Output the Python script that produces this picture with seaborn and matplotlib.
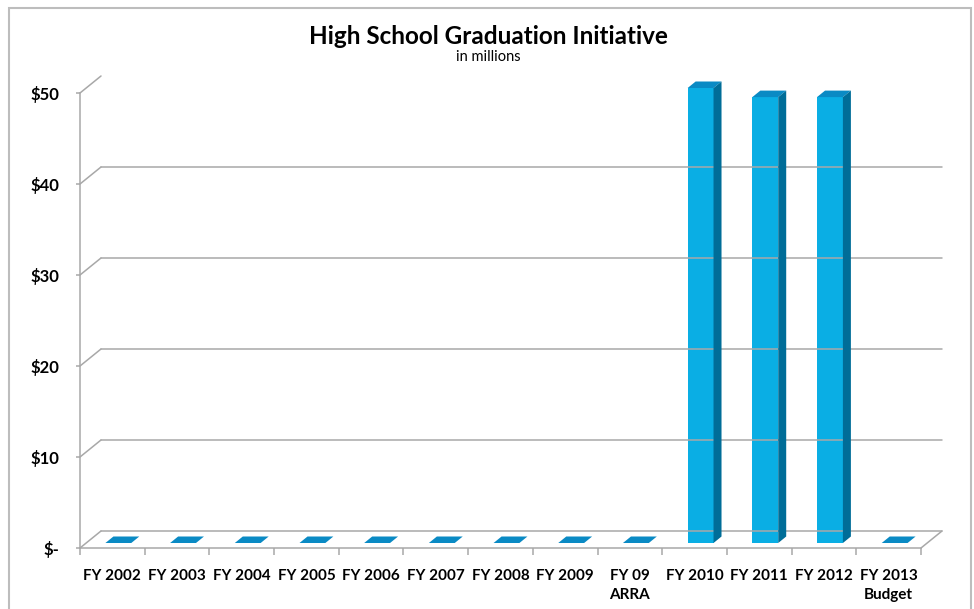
import matplotlib
matplotlib.use("Agg")
import matplotlib.pyplot as plt
import matplotlib.transforms as mtransforms
from matplotlib.patches import Polygon, Rectangle
from matplotlib.lines import Line2D
import numpy as np
import pandas as pd
import seaborn as sns

# Funding by fiscal year, $ millions
categories = ["FY 2002", "FY 2003", "FY 2004", "FY 2005", "FY 2006", "FY 2007",
              "FY 2008", "FY 2009", "FY 09\nARRA", "FY 2010", "FY 2011",
              "FY 2012", "FY 2013\nBudget"]
amounts = [0, 0, 0, 0, 0, 0, 0, 0, 0, 50, 49, 49, 0]
y_ticks = [0, 10, 20, 30, 40, 50]
y_labels = ["$-", "$10", "$20", "$30", "$40", "$50"]

title = "High School Graduation Initiative"
subtitle = "in millions"

FRONT = "#0AAEE4"
SIDE = "#006D98"
TOP = "#0A8AC4"
GRID = "#A8A8A8"

sns.set_theme(style="white")
plt.rcParams["font.family"] = ["Lato", "DejaVu Sans"]

W, H, DPI = 974, 609, 100
fig = plt.figure(figsize=(W / DPI, H / DPI), dpi=DPI)

# front plane of the plot box in pixels
x0, x1, yb, yt = 80, 921, 548, 93
ax = fig.add_axes([x0 / W, 1 - yb / H, (x1 - x0) / W, (yb - yt) / H])

df = pd.DataFrame({"year": categories, "amount": amounts})
sns.barplot(data=df, x="year", y="amount", color=FRONT, saturation=1,
            width=0.4, ax=ax, zorder=5)
ax.set_xlim(-0.5, len(categories) - 0.5)
ax.set_ylim(0, 50)
ax.set_xlabel("")
ax.set_ylabel("")

for s in ["top", "right"]:
    ax.spines[s].set_visible(False)
for s in ["left", "bottom"]:
    ax.spines[s].set_color(GRID)
    ax.spines[s].set_linewidth(1.1)

ax.set_yticks(y_ticks)
ax.set_yticklabels(y_labels, fontsize=12, fontweight="bold", color="black")
ax.tick_params(axis="y", left=True, length=3, width=1.1, color=GRID, pad=12)
ax.set_xticks(range(len(categories)))
ax.set_xticklabels(categories, fontsize=11, fontweight="bold", color="black",
                   linespacing=1.45)
ax.set_xticks(np.arange(-0.5, len(categories)), minor=True)
ax.tick_params(axis="x", which="major", bottom=False, length=0, pad=15)
ax.tick_params(axis="x", which="minor", bottom=True, length=5, width=1.1,
               color=GRID)

# 3-D depth of the walls (pixels, display coordinates: y up)
DX, DY = 21, 17
fig.canvas.draw()
td = ax.transData


def front(xd, yd):
    return td.transform((xd, yd))


def back(xd, yd):
    p = td.transform((xd, yd))
    return (p[0] + DX, p[1] + DY)


def seg(p, q, **kw):
    ln = Line2D([p[0], q[0]], [p[1], q[1]], transform=None, color=GRID,
                lw=1.1, zorder=1, **kw)
    fig.add_artist(ln)


xl, xr = -0.5, len(categories) - 0.5
for v in y_ticks:
    seg(front(xl, v), back(xl, v))
    if 0 < v < 50:
        seg(back(xl, v), back(xr, v))
seg(back(xl, 0), back(xr, 0))
seg(front(xr, 0), back(xr, 0))

# bars: shift the front face into the floor and add side / top faces
SX, SY = 6, 5
BX, BY = 8, 6.5
shift = mtransforms.Affine2D().translate(SX, SY)
for patch in ax.patches:
    patch.set_transform(td + shift)
    patch.set_clip_on(False)
    patch.set_edgecolor("none")
    bx, by = patch.get_x(), patch.get_y()
    bw, bh = patch.get_width(), patch.get_height()
    (lx, ly) = td.transform((bx, by + bh))
    (rx, ry) = td.transform((bx + bw, by + bh))
    (_, ybot) = td.transform((bx, by))
    lx += SX; rx += SX; ly += SY; ry += SY; ybot += SY
    top = Polygon([(lx, ly), (rx, ry), (rx + BX, ry + BY), (lx + BX, ly + BY)],
                  closed=True, transform=None, facecolor=TOP,
                  edgecolor="none", zorder=6)
    fig.add_artist(top)
    if bh > 0:
        side = Polygon([(rx, ybot), (rx, ry), (rx + BX, ry + BY),
                        (rx + BX, ybot + BY)], closed=True, transform=None,
                       facecolor=SIDE, edgecolor="none", zorder=6)
        fig.add_artist(side)

fig.text(0.5 + 1 / W, 1 - 36 / H, title, ha="center", va="center",
         fontsize=17.5, fontweight="bold", color="black")
fig.text(0.5 + 1 / W, 1 - 57 / H, subtitle, ha="center", va="center",
         fontsize=10.5, color="black")

fig.add_artist(Rectangle((9 / W, -20 / H), 962 / W, (H - 8 + 20) / H,
                         transform=fig.transFigure, fill=False,
                         edgecolor="#BDBDBD", lw=1.5, zorder=0))

fig.savefig("out.png", dpi=DPI)
